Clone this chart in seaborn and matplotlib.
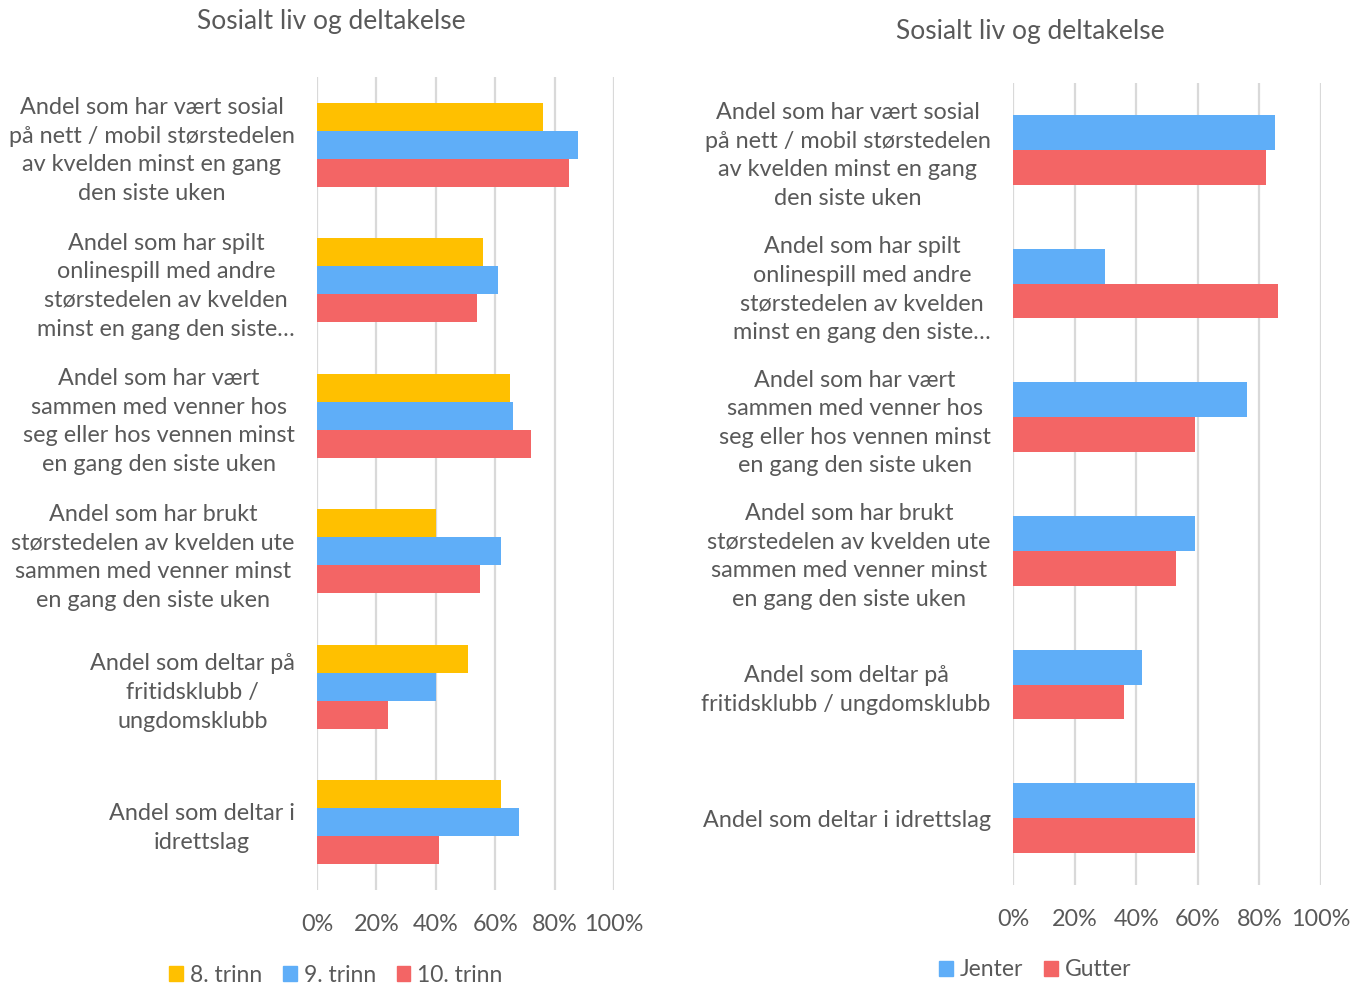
import pandas as pd
import matplotlib.pyplot as plt
import seaborn as sns
from matplotlib.patches import Patch

# left chart: by grade
labels_left = [
    'Andel som har vært sosial\npå nett / mobil størstedelen\nav kvelden minst en gang\nden siste uken',
    'Andel som har spilt\nonlinespill med andre\nstørstedelen av kvelden\nminst en gang den siste…',
    'Andel som har vært\nsammen med venner hos\nseg eller hos vennen minst\nen gang den siste uken',
    'Andel som har brukt\nstørstedelen av kvelden ute\nsammen med venner minst\nen gang den siste uken',
    'Andel som deltar på\nfritidsklubb /\nungdomsklubb',
    'Andel som deltar i\nidrettslag',
]
grades = ['8. trinn', '9. trinn', '10. trinn']
trinn8 = [76, 56, 65, 40, 51, 62]
trinn9 = [88, 61, 66, 62, 40, 68]
trinn10 = [85, 54, 72, 55, 24, 41]

# right chart: by gender
labels_right = [
    'Andel som har vært sosial\npå nett / mobil størstedelen\nav kvelden minst en gang\nden siste uken',
    'Andel som har spilt\nonlinespill med andre\nstørstedelen av kvelden\nminst en gang den siste…',
    'Andel som har vært\nsammen med venner hos\nseg eller hos vennen minst\nen gang den siste uken',
    'Andel som har brukt\nstørstedelen av kvelden ute\nsammen med venner minst\nen gang den siste uken',
    'Andel som deltar på\nfritidsklubb / ungdomsklubb',
    'Andel som deltar i idrettslag',
]
genders = ['Jenter', 'Gutter']
jenter = [85, 30, 76, 59, 42, 59]
gutter = [82, 86, 59, 53, 36, 59]

title = 'Sosialt liv og deltakelse'
yellow, blue, red = '#FFC000', '#5FAEF8', '#F36565'
grey = '#595959'

df_left = pd.DataFrame({
    'label': labels_left * 3,
    'group': [g for g in grades for _ in labels_left],
    'value': [v / 100 for v in trinn8 + trinn9 + trinn10],
})
df_right = pd.DataFrame({
    'label': labels_right * 2,
    'group': [g for g in genders for _ in labels_right],
    'value': [v / 100 for v in jenter + gutter],
})

sns.set_style('white')
plt.rcParams['font.family'] = ['Lato', 'DejaVu Sans']

fig = plt.figure(figsize=(13.5, 9.85), dpi=100)
ax1 = fig.add_axes([317 / 1350, 1 - 890 / 985, 297 / 1350, 813 / 985])
ax2 = fig.add_axes([1013 / 1350, 1 - 885 / 985, 308 / 1350, 802 / 985])


def draw(ax, df, order, hue_order, colors, width):
    sns.barplot(data=df, x='value', y='label', hue='group', order=order,
                hue_order=hue_order, palette=colors, width=width, saturation=1,
                orient='h', ax=ax, linewidth=0, legend=False)
    ax.set_xlim(0, 1)
    ax.set_ylim(len(order) - 0.5, -0.5)
    ax.set_xticks([0, 0.2, 0.4, 0.6, 0.8, 1.0])
    ax.set_xticklabels(['0%', '20%', '40%', '60%', '80%', '100%'])
    ax.xaxis.grid(True, color='#D9D9D9', linewidth=1.6)
    ax.set_axisbelow(True)
    for s in ax.spines.values():
        s.set_visible(False)
    ax.tick_params(axis='x', length=0, pad=17, labelsize=16.8, labelcolor=grey)
    ax.tick_params(axis='y', length=0, pad=16, labelsize=16.8, labelcolor=grey)
    for t in ax.get_yticklabels():
        t.set_multialignment('center')
        t.set_linespacing(1.45)
    ax.set_xlabel('')
    ax.set_ylabel('')


draw(ax1, df_left, labels_left, grades, [yellow, blue, red], 0.62)
draw(ax2, df_right, labels_right, genders, [blue, red], 0.52)

fig.text(331 / 1350, 1 - 22 / 985, title, ha='center', va='center', fontsize=19, color=grey)
fig.text(1030 / 1350, 1 - 32 / 985, title, ha='center', va='center', fontsize=19, color=grey)

h1 = [Patch(color=c, label=l) for c, l in zip([yellow, blue, red], grades)]
fig.legend(handles=h1, loc='center', bbox_to_anchor=(336 / 1350, 1 - 975 / 985), ncol=3,
           frameon=False, fontsize=16.5, labelcolor=grey, handlelength=0.6, handleheight=0.6,
           handletextpad=0.3, columnspacing=0.9)
h2 = [Patch(color=c, label=l) for c, l in zip([blue, red], genders)]
fig.legend(handles=h2, loc='center', bbox_to_anchor=(1035 / 1350, 1 - 970 / 985), ncol=2,
           frameon=False, fontsize=16.5, labelcolor=grey, handlelength=0.6, handleheight=0.6,
           handletextpad=0.3, columnspacing=0.9)

fig.savefig('out.png', dpi=100, facecolor='white')
